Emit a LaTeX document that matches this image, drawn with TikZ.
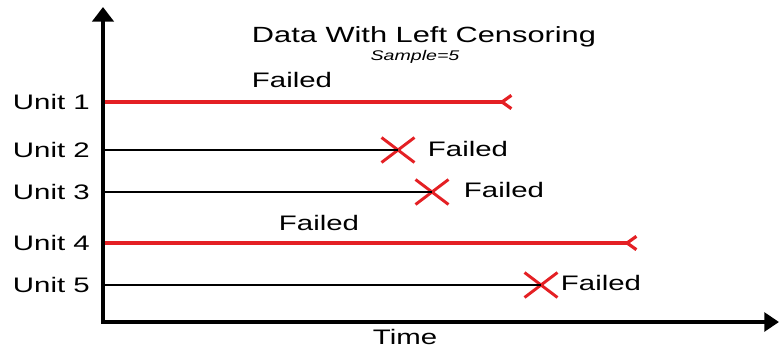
\documentclass[tikz,border=0pt]{standalone}
\usepackage{fontspec}
\setmainfont{Liberation Sans}[FakeStretch=1.4]
\usetikzlibrary{arrows.meta,shapes.misc}
\definecolor{failred}{RGB}{228,32,36}

\begin{document}
\begin{tikzpicture}[x=0.75pt, y=-0.75pt,
  txt/.style={inner sep=0pt, font=\fontsize{15.75}{18}\selectfont},
  unit node/.style={txt, anchor=east},
  fail node/.style={txt},
  axis/.style={draw=black, line width=3pt, line join=miter},
  run/.style={draw=black, line width=1.6pt},
  censored/.style={draw=failred, line width=2.4pt, -{Straight Barb[reversed, length=7pt, width=10pt]}},
  failure/.style={draw=failred, cross out, line width=2.2pt, minimum width=22.5pt, minimum height=16.5pt, inner sep=0pt}]
\useasboundingbox (0,0) rectangle (779,347);

% axes
\coordinate (o) at (103,322);
\coordinate (ytop) at (103,7);
\coordinate (xend) at (779,322);
\draw[axis, {Triangle[length=11pt, width=16pt]}-{Triangle[length=11pt, width=14pt]}] (ytop) -- (o) -- (xend);

\node[txt, anchor=base] (title) at (424,42) {\fontsize{16.5}{19}\selectfont Data With Left Censoring};
\node[txt, anchor=base] (sample) at (415,60) {\fontsize{10.5}{12}\selectfont\itshape Sample=5};
\node[txt, anchor=base] (time) at (405,344) {Time};

% units
\node[unit node] (u1) at (90,102) {Unit 1};
\node[unit node] (u2) at (90,150) {Unit 2};
\node[unit node] (u3) at (90,192) {Unit 3};
\node[unit node] (u4) at (90,243) {Unit 4};
\node[unit node] (u5) at (90,285) {Unit 5};

\coordinate (s1) at (105,102);
\coordinate (s2) at (105,150);
\coordinate (s3) at (105,192);
\coordinate (s4) at (105,243);
\coordinate (s5) at (105,285);

\coordinate (c1) at (513,102);
\coordinate (c4) at (638,243);
\node[failure] (x2) at (398,150) {};
\node[failure] (x3) at (432,192) {};
\node[failure] (x5) at (541,285) {};

\node[fail node] (f1) at (292,80) {Failed};
\node[fail node] (f2) at (468,149) {Failed};
\node[fail node] (f3) at (504,190) {Failed};
\node[fail node] (f4) at (319,223) {Failed};
\node[fail node] (f5) at (601,283) {Failed};

\path
(s1) edge[censored] (c1)
(s2) edge[run] (x2.center)
(s3) edge[run] (x3.center)
(s4) edge[censored] (c4)
(s5) edge[run, line width=1pt] (x5.center);
\end{tikzpicture}
\end{document}
